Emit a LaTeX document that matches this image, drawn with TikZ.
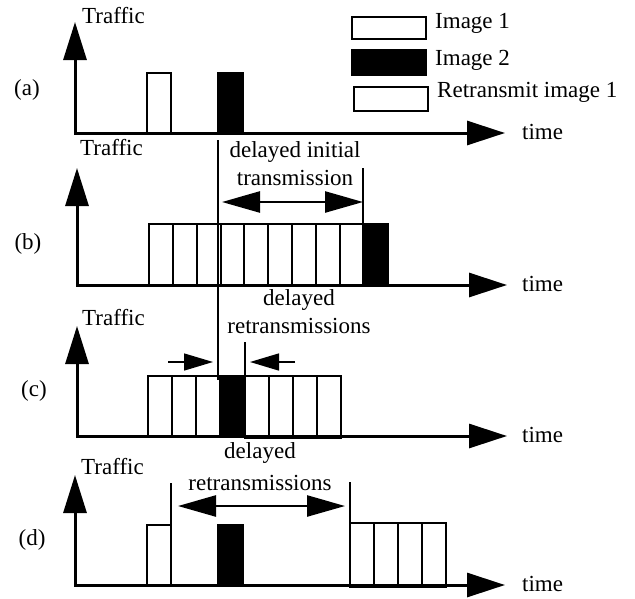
\documentclass[tikz,border=0pt]{standalone}
\usepackage{fontspec}
\setmainfont{Liberation Serif}
\usetikzlibrary{arrows.meta,positioning}

\tikzset{
  axis/.style={line width=3pt,{Triangle[length=38pt,width=23pt]}-{Triangle[length=38pt,width=24pt]}},
  cell/.style={draw,line width=1.8pt,minimum width=24pt,minimum height=61pt,inner sep=0pt,outer sep=0pt,anchor=south west},
  img2/.style={cell,fill=black},
  marker/.style={line width=1.5pt},
  span/.style={line width=2.5pt,{Triangle[length=38pt,width=21pt]}-{Triangle[length=38pt,width=21pt]}},
  push/.style={line width=1.5pt,-{Triangle[length=29pt,width=17pt]}},
  lbl/.style={font=\fontsize{23}{27}\selectfont,inner sep=0pt},
  keybox/.style={draw,line width=1.8pt,minimum width=74pt,inner sep=0pt,outer sep=0pt,anchor=north west}
}

\begin{document}
\begin{tikzpicture}[x=1pt,y=-1pt]
\useasboundingbox (0,0) rectangle (635,598);

% legend
\node[keybox,minimum height=22pt] (key1) at (352,17) {};
\node[keybox,minimum height=25pt,fill=black] (key2) at (352,50) {};
\node[keybox,minimum height=24pt] (key3) at (354,87) {};
\node[lbl,anchor=base west] (key1t) at (435,28) {Image 1};
\node[lbl,anchor=base west] (key2t) at (435,65) {Image 2};
\node[lbl,anchor=base west] (key3t) at (437,97) {Retransmit image 1};

% (a)
\coordinate (ya) at (75,22);
\coordinate (xa) at (505,133);
\draw[axis] (ya) |- (xa);
\node[lbl,anchor=base west] (tya) at (82,23) {Traffic};
\node[lbl,anchor=base west] (txa) at (522,139) {time};
\node[lbl] (pa) at (27,90) {(a)};
\node[cell,minimum height=60pt] (a1) at (147,133) {};
\node[img2,minimum height=60pt,minimum width=25pt] (a2) at (218,133) {};

% (b)
\coordinate (yb) at (77,168);
\coordinate (xb) at (507,285);
\draw[axis] (yb) |- (xb);
\node[lbl,anchor=base west] (tyb) at (80,155) {Traffic};
\node[lbl,anchor=base west] (txb) at (522,291) {time};
\node[lbl] (pb) at (28,244) {(b)};
\foreach \i [count=\n] in {0,...,8}
  \node[cell] (b\n) at (149+23.8*\i,285) {};
\node[img2,minimum width=25pt] (b10) at (363,285) {};
\node[lbl,anchor=base] (db1) at (295,157) {delayed initial};
\node[lbl,anchor=base] (db2) at (295,185) {transmission};
\draw[marker] (b10.north west) -- ++(0,-56) coordinate (mb);
\coordinate (sbl) at (222,202);
\coordinate (sbr) at (363,202);
\draw[span] (sbl) -- (sbr);

% long marker from (a) down to (c)
\coordinate (ml1) at (218,140);
\coordinate (ml2) at (218,380);
\draw[marker] (ml1) -- (ml2);

% (c)
\coordinate (yc) at (77,326);
\coordinate (xc) at (507,436);
\draw[axis] (yc) |- (xc);
\node[lbl,anchor=base west] (tyc) at (82,325) {Traffic};
\node[lbl,anchor=base west] (txc) at (522,442) {time};
\node[lbl] (pc) at (34,391) {(c)};
\foreach \i [count=\n] in {148,172,196}
  \node[cell,minimum height=60pt] (c\n) at (\i,436) {};
\node[img2,minimum height=60pt,minimum width=25pt] (c4) at (220,436) {};
\foreach \i [count=\n from 5] in {245,269,293,317}
  \node[cell,minimum height=62pt] (c\n) at (\i,438) {};
\node[lbl,anchor=base] (dc1) at (299,305) {delayed};
\node[lbl,anchor=base] (dc2) at (299,333) {retransmissions};
\draw[marker] (c4.north east) -- ++(0,-34) coordinate (mc);
\coordinate (pcl1) at (168,362);
\coordinate (pcl2) at (213,362);
\coordinate (pcr1) at (295,362);
\coordinate (pcr2) at (250,362);
\draw[push] (pcl1) -- (pcl2);
\draw[push] (pcr1) -- (pcr2);

% (d)
\coordinate (yd) at (75,475);
\coordinate (xd) at (505,585);
\draw[axis] (yd) |- (xd);
\node[lbl,anchor=base west] (tyd) at (81,474) {Traffic};
\node[lbl,anchor=base west] (txd) at (522,591) {time};
\node[lbl] (pd) at (32,540) {(d)};
\node[cell,minimum height=60pt] (d1) at (147,585) {};
\node[img2,minimum height=60pt,minimum width=25pt] (d2) at (218,585) {};
\foreach \i [count=\n from 3] in {350,374,398,422}
  \node[cell,minimum height=64pt] (d\n) at (\i,587) {};
\node[lbl,anchor=base] (dd1) at (260,458) {delayed};
\node[lbl,anchor=base] (dd2) at (260,490) {retransmissions};
\draw[marker] (d1.north east) -- ++(0,-42) coordinate (md1);
\draw[marker] (d3.north west) -- ++(0,-41) coordinate (md2);
\coordinate (sdl) at (178,506);
\coordinate (sdr) at (345,506);
\draw[span] (sdl) -- (sdr);
\end{tikzpicture}
\end{document}
